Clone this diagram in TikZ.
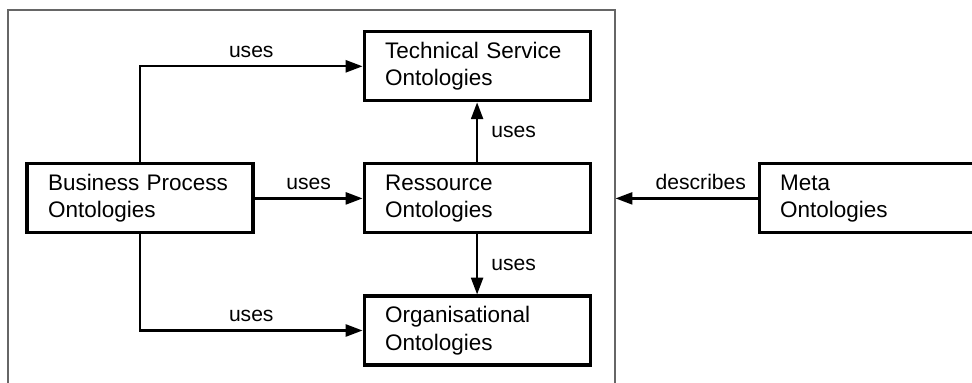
\documentclass[tikz,border=0pt]{standalone}
\usepackage{fontspec}
\setmainfont{Liberation Sans}
\usetikzlibrary{arrows.meta, positioning, fit}

\begin{document}
\begin{tikzpicture}[
    node distance=1.5cm and 2.7cm,
    box/.style={rectangle, draw, line width=2.2pt, text width=4.6cm, inner xsep=0.525cm,
                minimum height=1.725cm, align=left, font=\fontsize{16}{19.5}\selectfont},
    arr/.style={-{Triangle[length=4.2mm, width=3mm]}, line width=1.6pt},
    lbl/.style={font=\fontsize{15}{17}\selectfont}
]
\useasboundingbox (0,0) rectangle (24.3,-9.55);

% Ontology boxes
\node[box] (bpo) at (3.5,-4.96) {Business Process\\Ontologies};
\node[box, right=of bpo]       (res)  {Ressource\\Ontologies};
\node[box, above=of res]       (tso)  {Technical Service\\Ontologies};
\node[box, below=of res]       (org)  {Organisational\\Ontologies};
\node[box, right=4.15cm of res] (meta) {Meta\\Ontologies};

% Frame round the described ontologies
\coordinate (fnw) at (0.2,-0.25);
\coordinate (fse) at (15.375,-10.5);
\node[draw=black!60, line width=0.8pt, inner sep=0pt, fit=(fnw)(fse)] (grp) {};

% Uses relations
\draw[arr] (bpo) -- node[lbl, above=2pt] {uses} (res);
\draw[arr] (bpo.north) |- node[lbl, pos=0.75, above=2pt] {uses} (tso.west);
\draw[arr] (bpo.south) |- node[lbl, pos=0.75, above=2pt] {uses} (org.west);
\draw[arr] (res) -- node[lbl, right=6pt] {uses} (tso);
\draw[arr] (res) -- node[lbl, right=6pt] {uses} (org);

% Meta level
\draw[arr] (meta.west) -- node[lbl, pos=0.4, above=2pt] {describes} (meta.west -| grp.east);
\end{tikzpicture}
\end{document}
